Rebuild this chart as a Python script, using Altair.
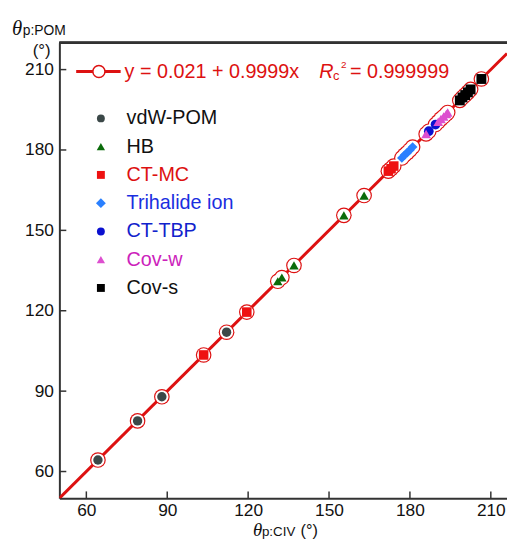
import altair as alt
import pandas as pd

# ---- data ----
groups = ["vdW-POM", "HB", "CT-MC", "Trihalide ion", "CT-TBP", "Cov-w", "Cov-s"]
marker_colors = ["#3b4848", "#0a6b0a", "#ee1111", "#2a80ff", "#0a10d0", "#dd4fcf", "#000000"]
label_colors = ["#111111", "#111111", "#dd1111", "#1a2ee0", "#1122cc", "#cc22bb", "#111111"]
shapes = ["circle", "triangle-up", "square", "diamond", "circle", "triangle-up", "square"]
marker_sizes = [90, 100, 90, 150, 90, 100, 90]
legend_sizes = [64, 70, 64, 100, 64, 70, 64]

vdw_x = [64.3, 79.0, 88.0, 112.0]
vdw_y = [64.3, 78.9, 87.9, 112.0]
hb_x = [131.0, 132.5, 137.0, 155.5, 163.0]
hb_y = [131.0, 132.4, 136.9, 155.6, 163.0]
ctmc_x = [103.5, 119.5, 172.0, 173.0, 174.0]
ctmc_y = [103.5, 119.5, 172.1, 173.0, 174.0]
tri_x = [177.0, 178.0, 179.0, 180.0, 181.0]
tri_y = [177.0, 178.1, 179.0, 180.0, 181.1]
tbp_x = [187.0, 189.5]
tbp_y = [187.0, 189.5]
covw_x = [186.0, 190.5, 191.5, 192.5, 193.5, 194.0]
covw_y = [186.0, 190.5, 191.6, 192.5, 193.4, 194.0]
covs_x = [198.5, 199.5, 200.5, 201.5, 202.5, 206.5]
covs_y = [198.5, 199.6, 200.5, 201.5, 202.6, 206.5]

fit_intercept = 0.021
fit_slope = 0.9999
fit_x = [50.0, 216.0]

tick_values = [60, 90, 120, 150, 180, 210]
x_domain = [50, 216]
y_domain = [50, 220]

# ---- tables ----
series = [(vdw_x, vdw_y), (hb_x, hb_y), (ctmc_x, ctmc_y), (tri_x, tri_y),
          (tbp_x, tbp_y), (covw_x, covw_y), (covs_x, covs_y)]
rows = []
for g, (xs_, ys_) in zip(groups, series):
    for a, b in zip(xs_, ys_):
        rows.append({"group": g, "cx": a, "cy": b})
pts = pd.DataFrame(rows)

fit = pd.DataFrame({"cx": fit_x, "cy": [fit_intercept + fit_slope * v for v in fit_x]})
ticks = pd.DataFrame({"v": tick_values})
leg = pd.DataFrame({"group": groups, "lab_color": label_colors, "lsize": legend_sizes,
                    "ly": [76.5 + 28.6 * i for i in range(len(groups))]})

W, H = 453, 461
FONT = "Liberation Sans"
RED = "#dd1111"

xs = alt.Scale(domain=x_domain, nice=False, zero=False)
ys = alt.Scale(domain=y_domain, nice=False, zero=False)
axis_common = dict(values=tick_values, tickSize=0, grid=False, title=None,
                   labelFont=FONT, labelFontSize=17.5, labelColor="#111111",
                   domainColor="#333333", domainWidth=2)
X = alt.X("cx:Q", scale=xs, axis=alt.Axis(labelPadding=3, **axis_common))
Y = alt.Y("cy:Q", scale=ys, axis=alt.Axis(labelPadding=6, **axis_common))

color = alt.Color("group:N", scale=alt.Scale(domain=groups, range=marker_colors), legend=None)
shape = alt.Shape("group:N", scale=alt.Scale(domain=groups, range=shapes), legend=None)
size = alt.Size("group:N", scale=alt.Scale(domain=groups, range=marker_sizes), legend=None)

line = alt.Chart(fit).mark_line(color=RED, strokeWidth=3, clip=True).encode(x=X, y=Y)
ring = alt.Chart(pts).mark_point(shape="circle", filled=True, fill=RED, size=250, opacity=1).encode(x=X, y=Y)
inner = alt.Chart(pts).mark_point(shape="circle", filled=True, fill="white", size=180, opacity=1).encode(x=X, y=Y)
marks = alt.Chart(pts).mark_point(filled=True, opacity=1).encode(x=X, y=Y, color=color, shape=shape, size=size)

top_border = alt.Chart(ticks).mark_rule(color="#333333", strokeWidth=2).encode(
    x=alt.value(0), x2=alt.value(W + 2), y=alt.value(0))
yticks = alt.Chart(ticks).mark_rule(color="#333333", strokeWidth=1.5).encode(
    y=alt.Y("v:Q", scale=ys), x=alt.value(0), x2=alt.value(7))
xticks = alt.Chart(ticks).mark_rule(color="#333333", strokeWidth=1.5).encode(
    x=alt.X("v:Q", scale=xs), y=alt.value(H), y2=alt.value(H - 7))

# legend
leg_sym = alt.Chart(leg).mark_point(filled=True, opacity=1).encode(
    x=alt.value(42), y=alt.Y("ly:Q", scale=None), color=color, shape=shape,
    size=alt.Size("lsize:Q", scale=None, legend=None))
leg_txt = alt.Chart(leg).mark_text(align="left", baseline="middle", font=FONT, fontSize=20).encode(
    x=alt.value(68), y=alt.Y("ly:Q", scale=None), text="group:N",
    color=alt.Color("lab_color:N", scale=None))

# fit legend
one = pd.DataFrame({"k": [0]})
fit_leg_line = alt.Chart(one).mark_rule(color=RED, strokeWidth=3).encode(
    x=alt.value(17), x2=alt.value(62), y=alt.value(29))
fit_leg_circ = alt.Chart(one).mark_point(shape="circle", filled=False, fill="white", stroke=RED,
                                         strokeWidth=1.5, size=150, opacity=1).encode(
    x=alt.value(40), y=alt.value(29))


def txt(s, x, y, size, color="#111111", font=FONT, style="normal", baseline="alphabetic"):
    return alt.Chart(one).mark_text(text=s, align="left", baseline=baseline, font=font,
                                    fontSize=size, fontStyle=style, color=color).encode(
        x=alt.value(x), y=alt.value(y))


eq = [
    txt("y = 0.021 + 0.9999x", 66, 36, 20, RED),
    txt("R", 263, 36, 20, RED, style="italic"),
    txt("c", 277, 38, 13, RED),
    txt("2", 285, 25, 10, RED),
    txt("= 0.999999", 294, 36, 20, RED),
]

titles = [
    txt("\u03b8", -48, -8, 21, font="Liberation Serif", style="italic"),
    txt("p:POM", -37, -8, 14),
    txt("(\u00b0)", -27, 13, 17),
    txt("\u03b8", 196, H + 38, 19, font="Liberation Serif", style="italic"),
    txt("p:CIV", 205, H + 38, 13.5),
    txt("(\u00b0)", 244, H + 38, 16.5),
]

chart = alt.layer(
    line, ring, inner, marks, top_border, yticks, xticks,
    leg_sym, leg_txt, fit_leg_line, fit_leg_circ, *eq, *titles
).properties(
    width=W, height=H,
    padding={"left": 52, "top": 32, "right": 0, "bottom": 42},
    autosize=alt.AutoSizeParams(type="none"),
).configure_view(stroke=None)

chart.save("out.html", embed_options={"renderer": "svg", "actions": False})
